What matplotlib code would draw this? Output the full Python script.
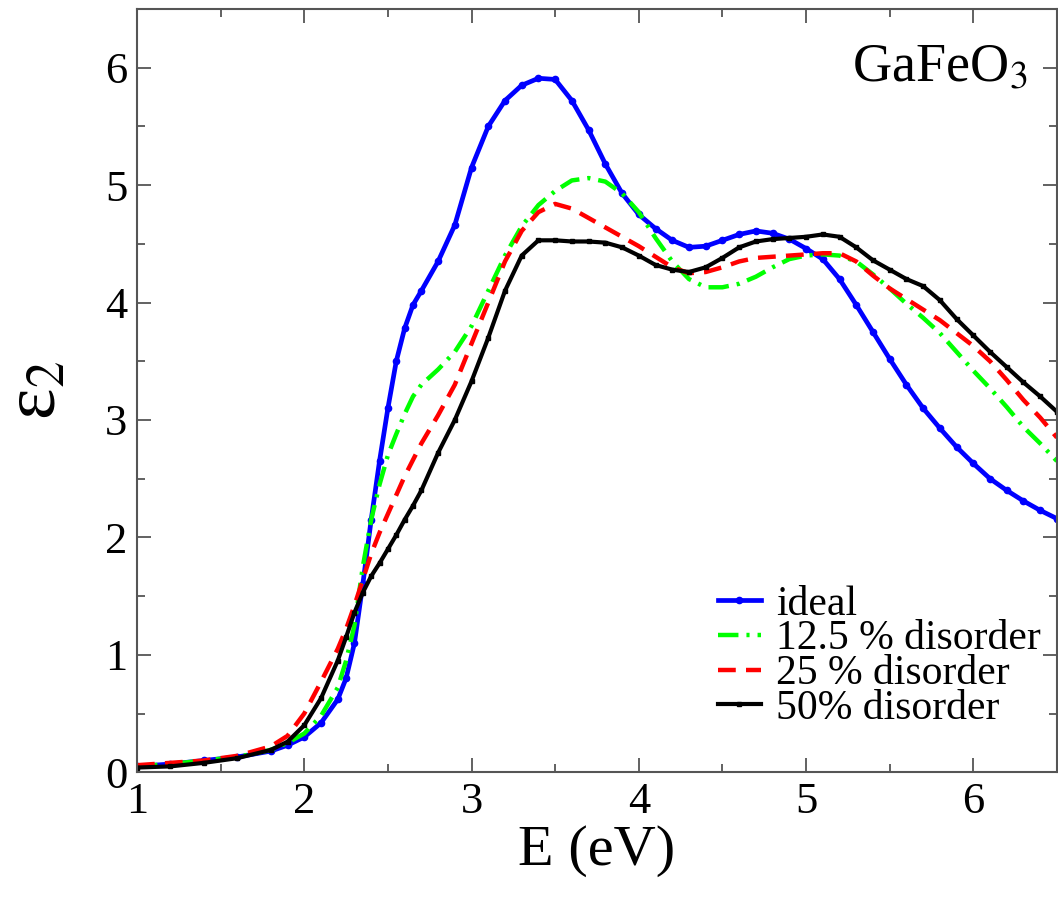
import matplotlib
matplotlib.use("Agg")
import matplotlib.pyplot as plt
from matplotlib.ticker import MultipleLocator

plt.rcParams['font.family'] = ['Liberation Serif', 'DejaVu Serif']
plt.rcParams['mathtext.fontset'] = 'stix'

# photon energy (eV)
energy = [1.0, 1.2, 1.4, 1.6, 1.8, 1.9, 2.0, 2.1, 2.2, 2.25, 2.3, 2.35, 2.4, 2.45,
          2.5, 2.55, 2.6, 2.65, 2.7, 2.8, 2.9, 3.0, 3.1, 3.2, 3.3, 3.4, 3.5, 3.6,
          3.7, 3.8, 3.9, 4.0, 4.1, 4.2, 4.3, 4.4, 4.5, 4.6, 4.7, 4.8, 4.9, 5.0,
          5.1, 5.2, 5.3, 5.4, 5.5, 5.6, 5.7, 5.8, 5.9, 6.0, 6.1, 6.2, 6.3, 6.4, 6.5]

eps_ideal = [0.05, 0.07, 0.10, 0.13, 0.18, 0.23, 0.30, 0.42, 0.62, 0.80, 1.10, 1.60, 2.15, 2.65,
             3.10, 3.50, 3.78, 3.98, 4.10, 4.35, 4.66, 5.15, 5.50, 5.72, 5.85, 5.91, 5.90, 5.72,
             5.47, 5.18, 4.93, 4.75, 4.63, 4.53, 4.47, 4.48, 4.53, 4.58, 4.61, 4.59, 4.54, 4.46,
             4.37, 4.20, 3.98, 3.75, 3.52, 3.30, 3.10, 2.93, 2.77, 2.63, 2.50, 2.40, 2.31, 2.23, 2.16]

eps_125 = [0.05, 0.07, 0.10, 0.13, 0.19, 0.25, 0.33, 0.48, 0.72, 0.95, 1.25, 1.75, 2.15, 2.45,
           2.70, 2.88, 3.05, 3.20, 3.30, 3.43, 3.58, 3.80, 4.10, 4.40, 4.65, 4.83, 4.95, 5.04,
           5.06, 5.03, 4.93, 4.77, 4.55, 4.35, 4.20, 4.13, 4.13, 4.16, 4.22, 4.30, 4.37, 4.40,
           4.41, 4.40, 4.35, 4.24, 4.12, 3.99, 3.87, 3.74, 3.58, 3.42, 3.27, 3.11, 2.94, 2.80, 2.65]

eps_25 = [0.06, 0.08, 0.10, 0.14, 0.22, 0.31, 0.50, 0.77, 1.05, 1.22, 1.42, 1.64, 1.86, 2.04,
          2.20, 2.36, 2.52, 2.66, 2.80, 3.04, 3.30, 3.65, 4.00, 4.35, 4.61, 4.77, 4.84, 4.80,
          4.72, 4.64, 4.56, 4.48, 4.39, 4.30, 4.25, 4.26, 4.30, 4.35, 4.38, 4.39, 4.40, 4.41,
          4.42, 4.42, 4.35, 4.23, 4.12, 4.03, 3.94, 3.85, 3.74, 3.63, 3.50, 3.34, 3.17, 3.02, 2.85]

eps_50 = [0.04, 0.05, 0.08, 0.12, 0.19, 0.26, 0.40, 0.63, 0.95, 1.15, 1.36, 1.53, 1.67, 1.78,
          1.90, 2.02, 2.15, 2.27, 2.40, 2.72, 3.00, 3.33, 3.70, 4.10, 4.40, 4.53, 4.53, 4.52,
          4.52, 4.51, 4.47, 4.40, 4.32, 4.28, 4.26, 4.30, 4.38, 4.47, 4.52, 4.54, 4.55, 4.56,
          4.58, 4.56, 4.47, 4.36, 4.28, 4.20, 4.14, 4.02, 3.86, 3.72, 3.58, 3.45, 3.32, 3.20, 3.07]

fig = plt.figure(figsize=(10.58, 8.99), dpi=100)
ax = fig.add_axes([0.1295, 0.141, 0.8695, 0.849])

ax.plot(energy, eps_ideal, color='#0000ff', lw=3.4, marker='o', ms=4.5, mfc='#0000ff', label='ideal')
ax.plot(energy, eps_125, color='#00ff00', lw=3.2, dashes=(4.6, 1.8, 0.7, 1.8), label='12.5 % disorder')
ax.plot(energy, eps_25, color='#ff0000', lw=3.2, dashes=(4, 2.3), label='25 % disorder')
ax.plot(energy, eps_50, color='black', lw=3, marker='s', ms=2.5, label='50% disorder')

ax.set_xlim(1, 6.5)
ax.set_ylim(0, 6.5)
ax.xaxis.set_major_locator(MultipleLocator(1))
ax.xaxis.set_minor_locator(MultipleLocator(0.5))
ax.yaxis.set_major_locator(MultipleLocator(1))
ax.yaxis.set_minor_locator(MultipleLocator(0.5))
ax.tick_params(which='both', direction='in', top=True, right=True, color='#555555', labelsize=32)
ax.tick_params(which='major', length=10, width=1.3, pad=7)
ax.tick_params(which='minor', length=6, width=1.3)
for s in ax.spines.values():
    s.set_color('#555555')
    s.set_linewidth(1.5)

ax.set_xlabel('E (eV)', fontsize=42, labelpad=2)
ax.set_ylabel(r'ε$_2$', fontsize=54, labelpad=24)

ax.text(0.968, 0.922, r'GaFeO$_3$', transform=ax.transAxes, ha='right', va='center', fontsize=39)

ax.legend(loc='upper left', bbox_to_anchor=(0.613, 0.267), frameon=False, fontsize=30,
          handlelength=1.05, handletextpad=0.35, labelspacing=-0.09, borderaxespad=0)

fig.savefig('out.png', dpi=100)
